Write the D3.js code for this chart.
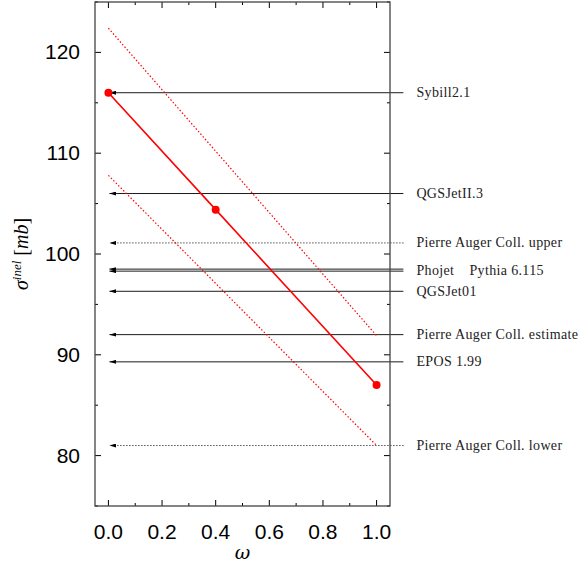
<!DOCTYPE html>
<html>
<head>
<meta charset="utf-8">
<script src="https://cdn.jsdelivr.net/npm/d3@7"></script>
<style>
  body { margin: 0; background: #fff; }
  svg { display: block; }
</style>
</head>
<body>
<div id="chart"></div>
<script>
var width = 579;
var height = 567;
var margin = { top: 2, right: 189, bottom: 61, left: 95 };

// model predictions (horizontal arrows)
var modelNames = ["Sybill2.1", "QGSJetII.3", "Pierre Auger Coll. upper", "Pythia 6.115", "Phojet", "QGSJet01", "Pierre Auger Coll. estimate", "EPOS 1.99", "Pierre Auger Coll. lower"];
var modelValues = [116.0, 106.0, 101.1, 98.5, 98.3, 96.3, 92.0, 89.3, 81.0];
var modelDotted = [false, false, true, false, false, false, false, false, true];

// omega scan
var omegaVals = [0, 0.4, 1];
var sigmaVals = [116.0, 104.4, 87.0];
var upperBand = [122.4, 91.9];
var lowerBand = [107.8, 81.0];
var bandOmega = [0, 1];

var xTicks = [0, 0.2, 0.4, 0.6, 0.8, 1.0];
var xMinor = [0.1, 0.3, 0.5, 0.7, 0.9];
var yTicks = [80, 90, 100, 110, 120];
var yMinor = [75, 85, 95, 105, 115, 125];

var w = width - margin.left - margin.right;
var h = height - margin.top - margin.bottom;

var x = d3.scaleLinear().domain([-0.05, 1.05]).range([0, w]);
var y = d3.scaleLinear().domain([75, 125]).range([h, 0]);

var svg = d3.select("#chart").append("svg")
  .attr("width", width)
  .attr("height", height);

var defs = svg.append("defs");
defs.append("marker")
  .attr("id", "head")
  .attr("viewBox", "0 0 10 6")
  .attr("refX", 10).attr("refY", 3)
  .attr("markerWidth", 7).attr("markerHeight", 4)
  .attr("markerUnits", "userSpaceOnUse")
  .attr("orient", "auto")
  .append("path")
  .attr("d", "M0,0L10,3L0,6Z")
  .attr("fill", "#000");

var g = svg.append("g").attr("transform", "translate(" + margin.left + "," + margin.top + ")");

// ticks on all four sides, pointing inward
function ticks(sel, vals, len) {
  sel.selectAll(null).data(vals).enter().append("line")
    .attr("x1", d => x(d)).attr("x2", d => x(d))
    .attr("y1", h).attr("y2", h - len)
    .attr("stroke", "#000").attr("stroke-width", 1);
  sel.selectAll(null).data(vals).enter().append("line")
    .attr("x1", d => x(d)).attr("x2", d => x(d))
    .attr("y1", 0).attr("y2", len)
    .attr("stroke", "#000").attr("stroke-width", 1);
}
function yticks(sel, vals, len) {
  sel.selectAll(null).data(vals).enter().append("line")
    .attr("x1", 0).attr("x2", len)
    .attr("y1", d => y(d)).attr("y2", d => y(d))
    .attr("stroke", "#000").attr("stroke-width", 1);
  sel.selectAll(null).data(vals).enter().append("line")
    .attr("x1", w).attr("x2", w - len)
    .attr("y1", d => y(d)).attr("y2", d => y(d))
    .attr("stroke", "#000").attr("stroke-width", 1);
}
var tg = g.append("g");
ticks(tg, xTicks, 6);
ticks(tg, xMinor, 3);
yticks(tg, yTicks, 6);
yticks(tg, yMinor, 3);

// tick labels
g.selectAll(".xl").data(xTicks).enter().append("text")
  .attr("x", d => x(d))
  .attr("y", h + 33)
  .attr("text-anchor", "middle")
  .style("font-family", "Liberation Sans, Arial, sans-serif")
  .style("font-size", "21px")
  .text(d => d3.format(".1f")(d));

g.selectAll(".yl").data(yTicks).enter().append("text")
  .attr("x", -15)
  .attr("y", d => y(d) + 7)
  .attr("text-anchor", "end")
  .style("font-family", "Liberation Sans, Arial, sans-serif")
  .style("font-size", "21px")
  .text(d => d);

// model arrows
var models = modelNames.map((n, i) => ({ name: n, v: modelValues[i], dotted: modelDotted[i] }));
g.selectAll(".arrow").data(models).enter().append("line")
  .attr("x1", x(1.1)).attr("x2", x(0) + 1)
  .attr("y1", d => y(d.v)).attr("y2", d => y(d.v))
  .attr("stroke", "#000")
  .attr("stroke-width", d => d.dotted ? 1 : 0.9)
  .attr("stroke-dasharray", d => d.dotted ? "1,2" : null)
  .attr("marker-end", "url(#head)");

// model labels (Phojet and Pythia share one baseline)
var labelPos = {
  "Pythia 6.115": { dx: 53, dy: 1.5 },
  "Phojet": { dx: 0, dy: -0.5 }
};
g.selectAll(".mlab").data(models).enter().append("text")
  .attr("x", d => x(1.1) + 13 + (labelPos[d.name] ? labelPos[d.name].dx : 0))
  .attr("y", d => y(d.v) + 4.5 + (labelPos[d.name] ? labelPos[d.name].dy : 0))
  .style("font-family", "Liberation Serif, Times New Roman, serif")
  .style("font-size", "14px")
  .style("letter-spacing", "0.35px")
  .attr("fill", "#222")
  .text(d => d.name);

// red bands
var bandLine = d3.line().x(d => x(d[0])).y(d => y(d[1]));
[upperBand, lowerBand].forEach(b => {
  g.append("path")
    .datum(bandOmega.map((o, i) => [o, b[i]]))
    .attr("d", bandLine)
    .attr("fill", "none")
    .attr("stroke", "#f00")
    .attr("stroke-width", 1.2)
    .attr("stroke-dasharray", "1.5,2");
});

// red solid line and points
var pts = omegaVals.map((o, i) => [o, sigmaVals[i]]);
g.append("path")
  .datum(pts)
  .attr("d", bandLine)
  .attr("fill", "none")
  .attr("stroke", "#f00")
  .attr("stroke-width", 1.6);
g.selectAll(".pt").data(pts).enter().append("circle")
  .attr("cx", d => x(d[0])).attr("cy", d => y(d[1]))
  .attr("r", 4)
  .attr("fill", "#f00");

// frame
g.append("rect")
  .attr("width", w).attr("height", h)
  .attr("fill", "none")
  .attr("stroke", "#444")
  .attr("stroke-width", 1.3);

// axis titles
svg.append("text")
  .attr("x", margin.left + x(0.5))
  .attr("y", height - 8)
  .attr("text-anchor", "middle")
  .style("font-family", "DejaVu Serif, serif")
  .style("font-style", "italic")
  .style("font-size", "19px")
  .text("\u03c9");

var yt = svg.append("text")
  .attr("transform", "translate(28," + (margin.top + y(100)) + ") rotate(-90)")
  .attr("text-anchor", "middle")
  .style("font-family", "Liberation Serif, serif")
  .style("font-size", "20px");
yt.append("tspan").style("font-style", "italic").text("\u03c3");
yt.append("tspan").attr("dy", -7).style("font-size", "13px").style("font-style", "italic").text("inel");
yt.append("tspan").attr("dy", 7).text(" [");
yt.append("tspan").style("font-style", "italic").text("mb");
yt.append("tspan").text("]");
</script>
</body>
</html>
